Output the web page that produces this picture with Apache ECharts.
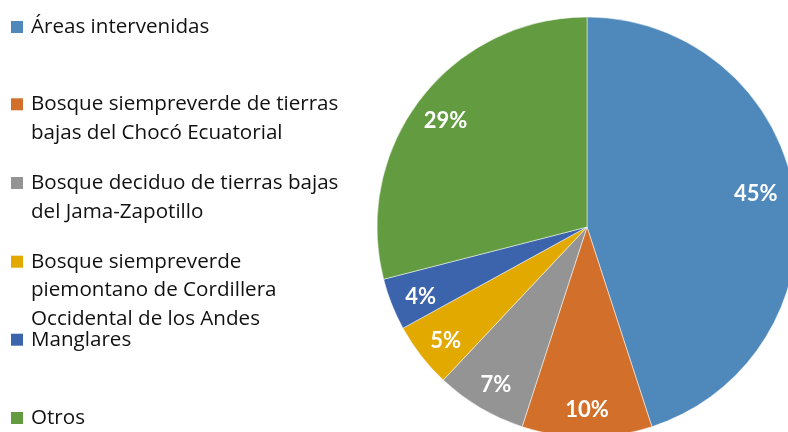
<!DOCTYPE html>
<html>
<head>
<meta charset="utf-8">
<script src="https://cdn.jsdelivr.net/npm/echarts@6/dist/echarts.min.js"></script>
<style>html,body{margin:0;padding:0;background:#fff}#c{width:788px;height:432px}</style>
</head>
<body>
<div id="c"></div>
<script>
const categories = [
  "Áreas intervenidas",
  "Bosque siempreverde de tierras bajas del Chocó Ecuatorial",
  "Bosque deciduo de tierras bajas del Jama-Zapotillo",
  "Bosque siempreverde piemontano de Cordillera Occidental de los Andes",
  "Manglares",
  "Otros"
];
const legendLabels = [
  "Áreas intervenidas",
  "Bosque siempreverde de tierras\nbajas del Chocó Ecuatorial",
  "Bosque deciduo de tierras bajas\ndel Jama-Zapotillo",
  "Bosque siempreverde\npiemontano de Cordillera\nOccidental de los Andes",
  "Manglares",
  "Otros"
];
const values = [45, 10, 7, 5, 4, 29];
const colors = ["#4F89BC", "#D2702B", "#949494", "#E2A900", "#3B64AD", "#629B40"];

const FONT = "Open Sans";
const LH = 28.7;
const iconCenters = [27, 104.3, 183, 261.7, 339.7, 418];

const data = categories.map((n, i) => ({ name: n, value: values[i], itemStyle: { color: colors[i] } }));

const legends = categories.map((n, i) => {
  const lines = legendLabels[i].split("\n").length;
  // blank lines in front keep the first text line level with the icon
  const txt = "\n".repeat(lines - 1) + legendLabels[i];
  return {
    orient: "vertical",
    left: 11,
    top: iconCenters[i] - (2 * lines - 1) * LH / 2,
    padding: 0,
    itemWidth: 12,
    itemHeight: 12,
    icon: "rect",
    selectedMode: false,
    itemStyle: { borderWidth: 0 },
    data: [n],
    formatter: () => txt,
    textStyle: {
      fontFamily: FONT,
      fontSize: 20.6,
      color: "#111111",
      lineHeight: LH,
      padding: [0, 0, 0, 3]
    }
  };
});

const chart = echarts.init(document.getElementById("c"), null, { renderer: "canvas" });
chart.setOption({
  animation: false,
  legend: legends,
  series: [
    {
      type: "pie",
      center: [587, 227],
      radius: 210,
      startAngle: 90,
      clockwise: true,
      data: data,
      label: { show: false },
      labelLine: { show: false },
      itemStyle: { borderColor: "#ffffff", borderWidth: 0.5 },
      emphasis: { disabled: true }
    },
    {
      type: "pie",
      center: [587, 227],
      radius: [142, 210],
      startAngle: 90,
      clockwise: true,
      silent: true,
      data: categories.map((n, i) => ({ name: n, value: values[i], itemStyle: { color: "rgba(0,0,0,0)" } })),
      label: {
        show: true,
        position: "inside",
        formatter: "{c}%",
        color: "#ffffff",
        fontFamily: "Lato",
        fontWeight: "bold",
        fontSize: 22
      },
      labelLayout: function (p) {
        return p.dataIndex === 0 ? { dx: -8, dy: -5 } : { dy: 4 };
      },
      labelLine: { show: false },
      emphasis: { disabled: true }
    }
  ]
});
</script>
</body>
</html>
